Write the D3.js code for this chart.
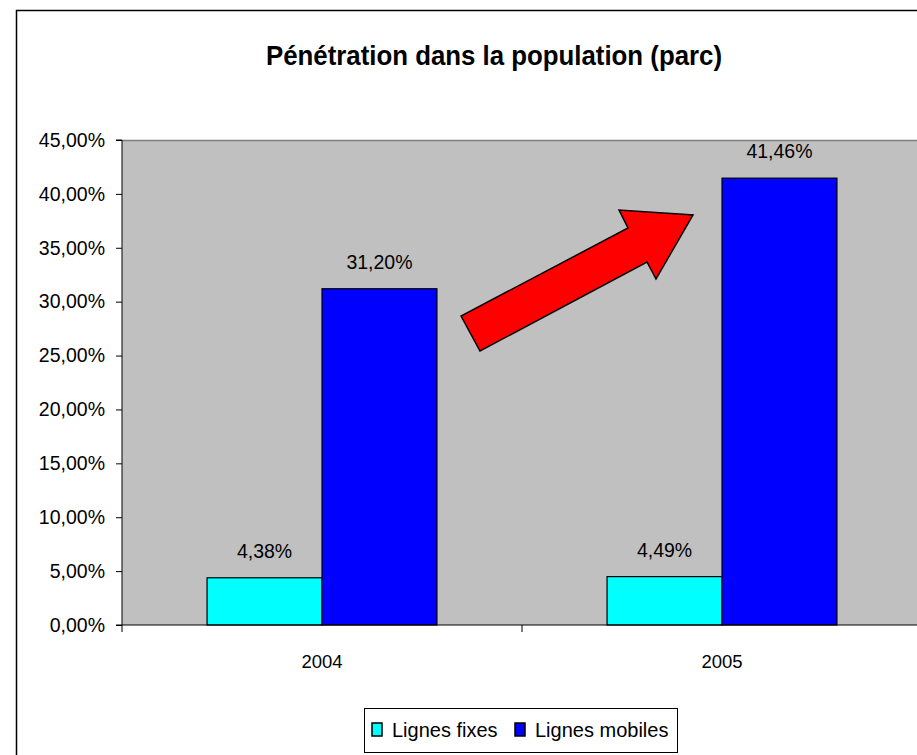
<!DOCTYPE html>
<html><head><meta charset="utf-8">
<script src="https://cdn.jsdelivr.net/npm/d3@7/dist/d3.min.js"></script>
<style>body{margin:0;background:#fff}svg{display:block}text{font-family:"Liberation Sans",Arial,sans-serif}</style>
</head><body>
<script>
const title = "Pénétration dans la population (parc)";
const years = ["2004", "2005"];
const seriesNames = ["Lignes fixes", "Lignes mobiles"];
const fixes = [4.38, 4.49];
const mobiles = [31.20, 41.46];
const yTicks = [0, 5, 10, 15, 20, 25, 30, 35, 40, 45];
const colors = ["#00FFFF", "#0000FF"];

(function () {
const W = 917, H = 755;
const svg = d3.select("body").append("svg").attr("width", W).attr("height", H);
const fmt = v => v.toFixed(2).replace(".", ",") + "%";

// outer frame
svg.append("rect").attr("x", 16.5).attr("y", 10.5).attr("width", 1000).attr("height", 1000)
  .attr("fill", "#fff").attr("stroke", "#000").attr("stroke-width", 1.5);

const pL = 122, pT = 140, pB = 625, pR = 922;
const x = d3.scaleBand().domain(years).range([pL, pR]).paddingInner(0).paddingOuter(0);
const y = d3.scaleLinear().domain([0, 45]).range([pB, pT]);
const inner = d3.scaleBand().domain(seriesNames).range([0, x.bandwidth()]).paddingInner(0).paddingOuter(0.74);

svg.append("rect").attr("x", pL).attr("y", pT).attr("width", pR - pL).attr("height", pB - pT)
  .attr("fill", "#C0C0C0");
svg.append("line").attr("x1", pL).attr("x2", pR).attr("y1", pT + 0.5).attr("y2", pT + 0.5)
  .attr("stroke", "#808080").attr("stroke-width", 1.5);

const data = years.map((yr, i) => ({yr, vals: [fixes[i], mobiles[i]]}));
const g = svg.append("g");
data.forEach(d => {
  d.vals.forEach((v, j) => {
    const bx = x(d.yr) + inner(seriesNames[j]);
    g.append("rect").attr("x", bx).attr("y", y(v)).attr("width", inner.bandwidth()).attr("height", y(0) - y(v))
      .attr("fill", colors[j]).attr("stroke", "#000").attr("stroke-width", 1.2);
    g.append("text").attr("x", bx + inner.bandwidth() / 2).attr("y", y(v) - 20)
      .attr("text-anchor", "middle").attr("font-size", 19.5).attr("fill", "#000").text(fmt(v));
  });
});

// axes
const yAxis = d3.axisLeft(y).tickValues(yTicks).tickSize(6).tickPadding(11).tickFormat(fmt);
const ya = svg.append("g").attr("transform", `translate(${pL},0)`).call(yAxis);
ya.selectAll("text").attr("font-size", 19.5).attr("fill", "#000").attr("font-family", "Liberation Sans, Arial, sans-serif");
ya.selectAll("line").attr("stroke", "#000");
ya.select(".domain").attr("stroke", "#000").attr("d", `M-6,${pT}H0V${pB}H-6`);

const xAxis = d3.axisBottom(x).tickSize(0).tickPadding(30);
const xa = svg.append("g").attr("transform", `translate(0,${pB})`).call(xAxis);
xa.selectAll("text").attr("font-size", 18.5).attr("fill", "#000").attr("font-family", "Liberation Sans, Arial, sans-serif");
xa.select(".domain").attr("stroke", "#000").attr("d", `M${pL},0H${pR}`);
xa.selectAll(".sep").data(x.domain().concat(["end"])).enter().append("line").attr("class", "sep")
  .attr("x1", (d, i) => pL + i * x.bandwidth()).attr("x2", (d, i) => pL + i * x.bandwidth())
  .attr("y1", 0).attr("y2", 7).attr("stroke", "#000");

// arrow
const arrow = [[461, 316], [480, 351], [647, 262], [656, 279], [693, 215], [619, 210], [628, 228]];
svg.append("path").attr("d", d3.line()(arrow) + "Z").attr("fill", "#FF0000").attr("stroke", "#000")
  .attr("stroke-width", 1.5).attr("stroke-linejoin", "miter");

// title
svg.append("text").attr("x", 494).attr("y", 65).attr("text-anchor", "middle")
  .attr("font-family", "Liberation Sans Narrow, Liberation Sans, Arial").attr("font-weight", "bold")
  .attr("font-size", 28).attr("textLength", 456).attr("lengthAdjust", "spacingAndGlyphs").text(title);

// legend
const lg = svg.append("g");
lg.append("rect").attr("x", 364.5).attr("y", 708.5).attr("width", 313).attr("height", 44)
  .attr("fill", "#fff").attr("stroke", "#000").attr("stroke-width", 1);
const legX = [372, 515];
seriesNames.forEach((s, i) => {
  lg.append("rect").attr("x", legX[i]).attr("y", 723).attr("width", 10).attr("height", 13)
    .attr("fill", colors[i]).attr("stroke", "#000").attr("stroke-width", 1.5);
  lg.append("text").attr("x", legX[i] + 20).attr("y", 737).attr("font-size", 20).attr("fill", "#000").text(s);
});
})();
</script>
</body></html>
